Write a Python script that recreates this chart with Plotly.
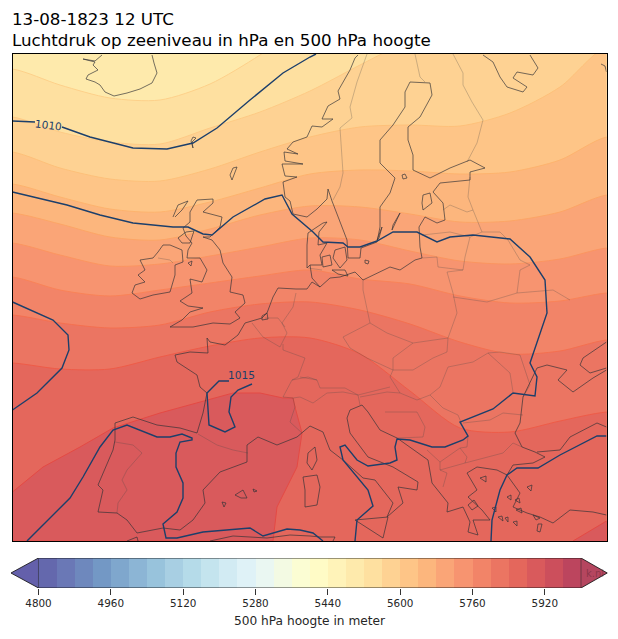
import plotly.graph_objects as go

# positions in its own picture units
map_left, map_right, map_top, map_bottom = 12.5, 606.5, 54, 541

levels = [4800 + 40 * i for i in range(30)]
band_colors = [
    "#6468ad", "#6a78b6", "#6e88bd", "#7398c5", "#7fa7cd", "#8cb5d5", "#98c3dc", "#a8cfe3",
    "#b5dbe9", "#c4e4ee", "#d2ebf3", "#dff2f7", "#eaf7f2", "#f3fae3", "#fbfdd3", "#fffbc6",
    "#fff3b9", "#feeaac", "#fee0a0", "#fed293", "#fec587", "#fcb67d", "#faa577", "#f79470",
    "#f28468", "#eb7562", "#e4675c", "#d95a5c", "#cc4f5c", "#bc455e",
]
under_color = "#6460ab"
over_color = "#b5465f"
cbar_ticks = [4800, 4960, 5120, 5280, 5440, 5600, 5760, 5920]

# 500 hPa isolines: y of each height line at the columns of iso_x
iso_x = [12.5, 60, 110, 160, 210, 260, 310, 360, 410, 460, 510, 560, 606.5]
h_5480 = [10, 10, 10, 10, 10, 10, 10, 10, 10, 10, 10, 10, 10]
h_5520 = [69, 85, 98, 100, 84, 55, 20, 10, 10, 10, 10, 10, 10]
h_5560 = [117, 132, 142, 144, 128, 112, 91, 65, 40, 20, 10, 10, 10]
h_5600 = [152, 168, 179, 181, 169, 152, 137, 127, 125, 126, 113, 87, 47]
h_5640 = [184, 197, 209, 212, 202, 188, 174, 170, 171, 174, 172, 160, 137]
h_5680 = [213, 224, 237, 240, 229, 215, 206, 207, 214, 222, 221, 212, 195]
h_5720 = [243, 255, 266, 264, 256, 247, 238, 240, 251, 261, 264, 259, 248]
h_5760 = [277, 290, 296, 290, 283, 276, 270, 279, 284, 296, 303, 301, 293]
h_5800 = [315, 323, 328, 325, 312, 304, 302, 310, 324, 342, 354, 351, 340]
h_5840 = [363, 369, 369, 357, 346, 338, 338, 354, 391, 428, 432, 421, 412]
# the 5880 line closes against the map frame, twice
h_5880_west_x = [12.5, 43, 80, 113, 160, 207, 233, 260, 283, 293, 295, 302, 297, 277, 273, 12.5]
h_5880_west_y = [492, 467, 447, 428, 413, 400, 393, 393, 398, 398, 407, 433, 467, 507, 541, 541]
h_5880_east_x = [573, 606.5, 606.5]
h_5880_east_y = [541, 521, 541]

height_lines = {5480: h_5480, 5520: h_5520, 5560: h_5560, 5600: h_5600, 5640: h_5640, 5680: h_5680,
                5720: h_5720, 5760: h_5760, 5800: h_5800, 5840: h_5840}
edge_colors = {5480: "#feeaac", 5520: "#fdd08a", 5560: "#fdca85", 5600: "#fdc07a", 5640: "#fdb36e", 5680: "#fca566",
               5720: "#fb9560", 5760: "#f98358", 5800: "#f47050", 5840: "#ee5c48", 5880: "#e44a44"}

# isobars
p1010_a = [(12.5, 121), (35, 122)]
p1010_b = [(62, 127), (90, 137), (133, 148), (167, 149), (193, 143), (217, 128), (250, 100), (283, 73), (310, 57), (316, 54)]
p1010_c = [(12.5, 192), (67, 205), (100, 215), (133, 223), (173, 227), (188, 227), (203, 234), (212, 235), (233, 217),
           (265, 199), (282, 195), (292, 214), (313, 232), (323, 242), (343, 243), (348, 247), (360, 247), (377, 241),
           (393, 232), (417, 232), (437, 242), (450, 237), (473, 235), (510, 239), (530, 257), (545, 280), (547, 313),
           (538, 340), (530, 363), (537, 377), (535, 396), (513, 393), (493, 409), (460, 422), (468, 436), (463, 440),
           (445, 447), (432, 447), (410, 440), (397, 439), (395, 447), (397, 460), (390, 463), (368, 466), (357, 460),
           (345, 445), (340, 447), (343, 460), (368, 490), (373, 506), (357, 520), (355, 541)]
p1010_d = [(12.5, 302), (53, 320), (68, 335), (69, 350), (62, 368), (37, 393), (12.5, 410)]
p1015_a = [(27, 541), (70, 498), (83, 477), (100, 447), (113, 430), (127, 425), (157, 437), (170, 437), (182, 434),
           (192, 438), (192, 440), (180, 442), (176, 453), (176, 467), (183, 483), (183, 498), (177, 512), (163, 524),
           (166, 538), (177, 538), (203, 532), (250, 528), (263, 536), (287, 529), (300, 530), (313, 533), (323, 541)]
p1015_b = [(229, 381), (219, 381), (207, 393), (209, 425), (225, 432), (235, 427), (229, 412), (231, 397), (238, 390), (252, 384)]
p1015_c = [(606.5, 436), (597, 436), (560, 455), (538, 468), (517, 468), (507, 475), (500, 490), (492, 520), (491, 541)]
isobars = [p1010_a, p1010_b, p1010_c, p1010_d, p1015_a, p1015_b, p1015_c]

# coastlines
iceland = [(102, 55), (98, 58), (95, 61), (83, 59), (95, 62), (93, 65), (98, 70), (88, 75), (86, 79), (95, 82), (100, 85),
           (105, 92), (114, 96), (127, 93), (140, 89), (152, 83), (157, 73), (154, 63), (152, 55)]
faroe = [(193, 137), (196, 138), (192, 142), (193, 148), (191, 141), (193, 137)]
shetland = [(230, 175), (233, 168), (237, 167), (234, 175), (232, 180), (230, 175)]
britain = [(197, 200), (213, 199), (213, 203), (203, 212), (222, 217), (220, 227), (210, 237), (203, 237), (212, 240),
           (220, 250), (223, 263), (232, 277), (230, 292), (243, 295), (245, 303), (235, 312), (240, 318), (230, 324),
           (213, 323), (193, 327), (170, 327), (182, 320), (190, 312), (203, 308), (188, 306), (180, 301), (192, 293),
           (190, 279), (202, 282), (207, 270), (200, 258), (187, 258), (188, 250), (192, 243), (186, 236), (183, 228),
           (190, 222), (190, 212), (197, 200)]
ireland = [(163, 245), (170, 245), (182, 250), (183, 262), (175, 265), (175, 275), (170, 292), (153, 295), (140, 299),
           (132, 293), (135, 285), (145, 282), (138, 275), (145, 270), (140, 260), (153, 258), (158, 252), (163, 245)]
hebrides = [(173, 217), (178, 205), (188, 201), (182, 210), (175, 217)]
inner_isles = [(178, 238), (186, 232), (194, 231), (190, 243), (182, 243), (178, 238)]
isle_man = [(188, 263), (192, 261), (191, 266), (188, 263)]
norway = [(358, 55), (355, 58), (350, 70), (343, 82), (338, 91), (340, 99), (328, 106), (322, 119), (333, 119), (322, 127),
          (312, 126), (307, 137), (293, 142), (287, 149), (298, 154), (284, 152), (285, 161), (303, 164), (282, 164),
          (285, 176), (297, 177), (283, 182), (285, 197), (290, 201), (293, 214), (307, 217), (317, 209), (327, 199),
          (328, 189), (332, 201), (340, 221), (347, 240), (348, 258), (360, 258), (361, 248), (377, 242), (380, 227),
          (380, 207), (390, 193), (395, 178), (380, 163), (380, 140), (393, 125), (405, 107), (405, 92), (410, 82),
          (430, 83), (432, 95), (420, 117), (408, 127), (408, 140), (413, 155), (413, 170), (430, 178), (450, 168),
          (470, 160), (485, 168), (470, 172), (470, 180), (440, 183), (433, 192), (443, 203), (445, 220), (437, 223),
          (425, 217), (419, 227), (420, 247), (422, 258), (415, 260), (400, 270), (390, 267), (363, 280), (355, 272),
          (340, 277), (330, 278), (320, 287), (312, 282), (307, 289), (296, 289), (278, 288), (273, 297), (267, 313), (262, 318),
          (245, 323), (238, 335), (225, 345), (210, 342), (207, 338), (208, 353), (190, 352), (175, 355), (177, 362),
          (197, 375), (200, 387), (207, 393), (203, 413), (197, 433), (180, 428), (157, 425), (133, 417), (115, 423),
          (115, 440), (113, 450), (98, 485), (103, 490), (98, 512), (117, 513), (127, 520), (137, 533), (163, 528),
          (180, 530), (193, 520), (205, 503), (203, 490), (220, 472), (247, 462), (247, 445), (258, 437), (277, 445),
          (297, 437), (310, 426), (323, 432), (330, 450), (343, 460), (363, 478), (375, 480), (393, 503), (387, 517),
          (395, 510), (403, 503), (398, 487), (417, 490), (418, 482), (393, 467), (368, 457), (350, 433), (347, 418),
          (350, 410), (362, 405), (368, 412), (380, 430), (397, 438), (428, 460), (432, 483), (440, 493), (448, 503),
          (447, 512), (463, 507), (470, 522), (468, 532), (478, 535), (473, 520), (490, 520), (482, 510), (468, 497),
          (477, 490), (467, 473), (477, 467), (497, 470), (507, 475), (513, 465), (533, 463), (545, 457), (535, 452),
          (522, 447), (515, 433), (520, 423), (523, 397), (537, 368), (547, 365), (567, 370), (558, 380), (573, 392),
          (593, 378), (606.5, 370)]
azov = [(606.5, 342), (583, 358), (580, 365), (590, 373), (606.5, 368)]
turkey_north = [(537, 452), (560, 450), (570, 437), (597, 423), (606.5, 427)]
turkey_south = [(507, 475), (513, 483), (520, 493), (513, 507), (527, 513), (540, 517), (553, 523), (570, 510), (593, 512), (606.5, 515)]
kola = [(483, 55), (493, 62), (500, 77), (507, 87), (523, 92), (527, 87), (513, 78), (517, 72), (533, 75), (538, 68), (530, 55)]
novaya = [(601, 64), (605, 66), (606.5, 72)]
corsica = [(315, 447), (317, 460), (312, 470), (307, 463), (308, 453), (315, 447)]
sardinia = [(303, 477), (317, 475), (320, 487), (317, 505), (305, 507), (305, 490), (303, 477)]
sicily = [(355, 520), (388, 517), (383, 538), (367, 528), (355, 520)]
mallorca = [(235, 495), (243, 490), (247, 498), (241, 498), (235, 495)]
menorca = [(253, 489), (257, 491), (254, 492), (253, 489)]
ibiza = [(222, 502), (226, 503), (224, 507), (222, 502)]
africa_west = [(127, 541), (137, 537), (138, 541)]
africa_east = [(210, 541), (233, 536), (267, 538), (290, 535), (310, 536), (320, 537), (335, 537), (333, 541)]
gotland = [(400, 213), (393, 225), (392, 230), (396, 222), (400, 213)]
oland = [(377, 240), (382, 227), (379, 238), (377, 240)]
saaremaa = [(423, 195), (430, 193), (432, 203), (423, 210), (422, 203), (423, 195)]
aland = [(402, 175), (405, 174), (407, 178), (403, 179), (402, 175)]
bornholm = [(365, 260), (369, 261), (368, 264), (365, 263), (365, 260)]
jutland = [(320, 287), (312, 278), (310, 265), (307, 268), (307, 245), (308, 233), (323, 223), (327, 222), (319, 232), (318, 245),
           (327, 243), (320, 255), (322, 265), (310, 265)]
zealand = [(333, 258), (335, 250), (345, 247), (347, 260), (340, 268), (333, 258)]
funen = [(322, 257), (330, 255), (332, 265), (323, 267), (322, 257)]
lolland = [(332, 270), (345, 270), (348, 276), (338, 274), (332, 270)]
ijsselmeer = [(262, 316), (267, 313), (268, 319), (262, 320), (262, 316)]
aegean = [[(515, 500), (519, 498), (520, 503), (515, 500)], [(507, 497), (511, 495), (511, 500), (507, 497)],
          [(527, 487), (532, 485), (531, 491), (527, 487)], [(516, 510), (521, 508), (522, 513), (516, 510)],
          [(498, 517), (502, 516), (503, 521), (498, 517)], [(492, 508), (496, 507), (496, 512), (492, 508)],
          [(505, 518), (508, 517), (508, 522), (505, 518)], [(513, 522), (517, 521), (517, 526), (513, 522)],
          [(538, 524), (542, 524), (540, 532), (537, 531), (538, 524)], [(480, 478), (486, 476), (486, 482), (480, 478)],
          [(468, 505), (474, 500), (478, 506), (472, 510), (468, 505)], [(533, 515), (540, 518), (536, 520), (533, 515)]]
coast_lines = [iceland, faroe, shetland, britain, ireland, hebrides, inner_isles, isle_man, norway, azov, turkey_north,
               turkey_south, kola, novaya, corsica, sardinia, sicily, mallorca, menorca, ibiza, africa_west, africa_east,
               gotland, oland, saaremaa, aland, bornholm, jutland, zealand, funen, lolland, ijsselmeer] + aegean

# country borders
b_scandes = [(367, 54), (357, 82), (350, 107), (352, 118), (340, 128), (342, 155), (343, 173), (340, 187), (333, 200)]
b_swe_fin = [(415, 54), (420, 77), (425, 82)]
b_fin_rus = [(453, 54), (463, 73), (463, 85), (472, 102), (483, 120), (477, 143), (467, 162)]
b_baltic_east = [(470, 177), (468, 197), (473, 210), (482, 232), (500, 232), (508, 240), (520, 260), (530, 265), (520, 270), (518, 287), (517, 293)]
b_est_lat = [(443, 210), (450, 205), (467, 212), (473, 210)]
b_lat_lit = [(422, 235), (450, 232), (470, 237), (482, 232)]
b_lit_bel = [(470, 237), (465, 257), (463, 270), (438, 267), (437, 257), (422, 258)]
b_pol_east = [(463, 270), (447, 272), (453, 293), (457, 313), (448, 338)]
b_bel_ukr = [(453, 297), (487, 302), (517, 293), (553, 290), (570, 300)]
b_ger_pol = [(363, 280), (363, 290), (370, 323)]
b_czech = [(343, 337), (370, 323), (387, 333), (413, 343), (393, 358), (393, 370), (367, 358), (350, 348), (343, 337)]
b_slovakia = [(413, 343), (448, 338), (447, 352), (433, 358), (413, 370), (393, 370)]
b_hungary = [(393, 370), (390, 377), (400, 393), (417, 400), (430, 395), (440, 387), (448, 367), (473, 362), (488, 353), (510, 373), (513, 392)]
b_romania = [(488, 353), (500, 352), (520, 355), (530, 385), (523, 397)]
b_bulgaria = [(463, 423), (490, 420), (503, 413), (523, 415)]
b_serbia = [(430, 395), (443, 408), (458, 415), (463, 427), (468, 436), (467, 447), (460, 448)]
b_alps = [(300, 377), (317, 380), (320, 388), (345, 388), (358, 395), (390, 387)]
b_italy_north = [(293, 398), (300, 397), (313, 403), (327, 393), (343, 392), (358, 395), (360, 405)]
b_slovenia = [(360, 397), (387, 392), (400, 393)]
b_bosnia = [(385, 412), (417, 412), (425, 427), (423, 437), (397, 438)]
b_albania = [(427, 450), (440, 462), (440, 470), (447, 473), (443, 487)]
b_macedonia = [(440, 462), (460, 448), (467, 457), (465, 463), (440, 470)]
b_greece = [(465, 463), (503, 453), (513, 443), (522, 447)]
b_pyrenees = [(198, 434), (217, 445), (233, 450), (248, 453)]
b_portugal = [(115, 442), (133, 445), (142, 453), (127, 470), (122, 480), (127, 490), (118, 503), (117, 513)]
b_benelux = [(252, 323), (263, 337), (280, 347), (287, 333), (282, 323), (293, 307), (296, 293)]
b_netherlands = [(265, 318), (278, 318), (285, 327)]
b_fra_ger = [(283, 344), (283, 350), (305, 358), (298, 377), (292, 380), (283, 397), (293, 398), (295, 407), (290, 422), (302, 433)]
b_swiss = [(292, 380), (308, 377), (317, 380)]
b_ger_den = [(308, 268), (322, 270)]
b_ulster = [(158, 258), (170, 260), (173, 263)]
border_lines = [b_scandes, b_swe_fin, b_fin_rus, b_baltic_east, b_est_lat, b_lat_lit, b_lit_bel, b_pol_east, b_bel_ukr,
                b_ger_pol, b_czech, b_slovakia, b_hungary, b_romania, b_bulgaria, b_serbia, b_alps, b_italy_north,
                b_slovenia, b_bosnia, b_albania, b_macedonia, b_greece, b_pyrenees, b_portugal, b_benelux,
                b_netherlands, b_fra_ger, b_swiss, b_ger_den, b_ulster]


def join_lines(lines):
    xs, ys = [], []
    for line in lines:
        xs += [p[0] for p in line] + [None]
        ys += [p[1] for p in line] + [None]
    return xs, ys


fig = go.Figure()

# height bands, lowest level first, each one painted down past the bottom of the map;
# the closing points lie outside the frame so the spline stays clean inside it
for level, ys in height_lines.items():
    fx = [map_left - 60] + iso_x + [map_right + 60, map_right + 60, map_left - 60]
    fy = [ys[0]] + ys + [ys[-1], map_bottom + 80, map_bottom + 80]
    fig.add_trace(go.Scatter(x=fx, y=fy, mode="lines", fill="toself", fillcolor=band_colors[levels.index(level)],
                             line=dict(color=edge_colors[level], width=1, shape="spline", smoothing=0.8), hoverinfo="skip"))
for xs, ys in [(h_5880_west_x, h_5880_west_y), (h_5880_east_x, h_5880_east_y)]:
    fig.add_trace(go.Scatter(x=xs, y=ys, mode="lines", fill="toself", fillcolor=band_colors[levels.index(5880)],
                             line=dict(color=edge_colors[5880], width=1), hoverinfo="skip"))

bx, by = join_lines(border_lines)
fig.add_trace(go.Scatter(x=bx, y=by, mode="lines", line=dict(color="rgba(70,70,70,0.3)", width=0.9), hoverinfo="skip"))
cx, cy = join_lines(coast_lines)
fig.add_trace(go.Scatter(x=cx, y=cy, mode="lines", line=dict(color="rgba(50,50,55,0.85)", width=0.8), hoverinfo="skip"))
px_, py_ = join_lines(isobars)
fig.add_trace(go.Scatter(x=px_, y=py_, mode="lines", line=dict(color="#1c3f6b", width=1.4), hoverinfo="skip"))

# colorbar
fig.add_trace(go.Bar(x=[lv + 20 for lv in levels], y=[1] * len(levels), width=40, marker=dict(color=band_colors, line_width=0),
                     xaxis="x2", yaxis="y2", hoverinfo="skip"))
fig.add_trace(go.Scatter(x=[4800, 4739, 4800, 4800], y=[1, 0.5, 0, 1], mode="lines", fill="toself", fillcolor=under_color,
                         line_width=0, xaxis="x2", yaxis="y2", hoverinfo="skip"))
fig.add_trace(go.Scatter(x=[6000, 6058, 6000, 6000], y=[1, 0.5, 0, 1], mode="lines", fill="toself", fillcolor=over_color,
                         line_width=0, xaxis="x2", yaxis="y2", hoverinfo="skip"))
fig.add_trace(go.Scatter(x=[4800, 4739, 4800, 6000, 6058, 6000, 4800], y=[1, 0.5, 0, 0, 0.5, 1, 1], mode="lines",
                         line=dict(color="rgba(20,20,20,0.85)", width=1), xaxis="x2", yaxis="y2", hoverinfo="skip"))
fig.add_trace(go.Scatter(x=[4800, 4800, None, 6000, 6000], y=[0, 1, None, 0, 1], mode="lines",
                         line=dict(color="rgba(40,40,40,0.5)", width=1), xaxis="x2", yaxis="y2", hoverinfo="skip"))

W, H = 618, 639
font = "DejaVu Sans"
fig.update_layout(
    width=W, height=H, margin=dict(l=0, r=0, t=0, b=0), showlegend=False, paper_bgcolor="white",
    plot_bgcolor="white", bargap=0, font=dict(family=font, color="#262626"),
    xaxis=dict(domain=[map_left / W, map_right / W], range=[map_left, map_right], showgrid=False, zeroline=False,
               showticklabels=False, ticks="", showline=True, mirror=True, linecolor="black", linewidth=1),
    yaxis=dict(domain=[1 - map_bottom / H, 1 - map_top / H], range=[map_bottom, map_top], showgrid=False, zeroline=False,
               showticklabels=False, ticks="", showline=True, mirror=True, linecolor="black", linewidth=1),
    xaxis2=dict(domain=[11 / W, 608 / W], range=[4739.2, 6059.7], anchor="y2", showgrid=False, zeroline=False,
                tickvals=cbar_ticks, ticks="outside", ticklen=6, tickwidth=1, tickcolor="#333333",
                tickfont=dict(size=10.4, family=font, color="#262626"),
                title=dict(text="500 hPa hoogte in meter", font=dict(size=12.2, family=font, color="#262626"), standoff=7)),
    yaxis2=dict(domain=[1 - 588 / H, 1 - 558 / H], range=[0, 1], anchor="x2", visible=False),
    annotations=[
        dict(text="13-08-1823 12 UTC", x=10 / W, y=1 - 31 / H, xref="paper", yref="paper", xanchor="left", yanchor="bottom",
             showarrow=False, font=dict(size=16.7, family=font, color="black")),
        dict(text="Luchtdruk op zeeniveau in hPa en 500 hPa hoogte", x=10 / W, y=1 - 52 / H, xref="paper", yref="paper",
             xanchor="left", yanchor="bottom", showarrow=False, font=dict(size=16.7, family=font, color="black")),
        dict(text="1010", x=48.5, y=124.5, xref="x", yref="y", textangle=7, showarrow=False,
             font=dict(size=10.6, family=font, color="#1c3f6b")),
        dict(text="1015", x=241, y=374.5, xref="x", yref="y", showarrow=False,
             font=dict(size=10.6, family=font, color="#1c3f6b")),
        dict(text="k.nl", x=6030, y=0.47, xref="x2", yref="y2", showarrow=False,
             font=dict(size=10, family=font, color="rgba(60,20,30,0.35)")),
    ],
)

# the page's own body margin would push the figure 8px off
fig.write_html("out.html", config={"displayModeBar": False}, post_script="document.body.style.margin='0';")
